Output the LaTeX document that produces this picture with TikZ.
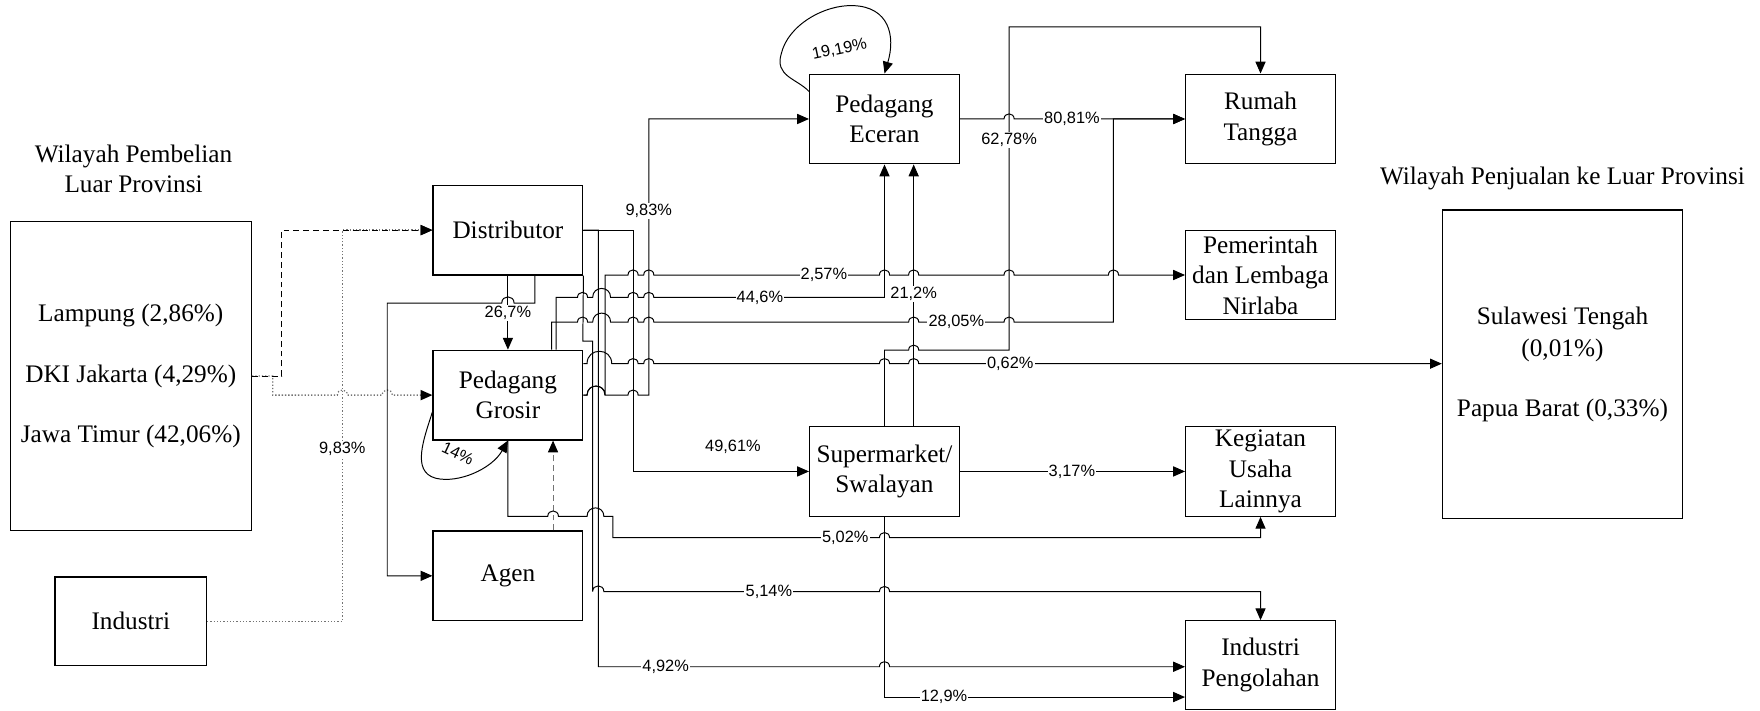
\documentclass[tikz,border=0pt]{standalone}
\usepackage{fontspec}
\setmainfont{Liberation Serif}
\setsansfont{Liberation Sans}
\usetikzlibrary{arrows.meta,positioning,calc}
\newcommand{\boxfont}{\fontsize{12.8}{15.4}\selectfont}
\newcommand{\pctfont}{\sffamily\fontsize{8.3}{10}\selectfont}
% line jump from x=#1 to x=#2 on a horizontal line at y=#3
\newcommand{\hop}[3]{-- (#1,#3) .. controls (#1,{#3-abs(#2-#1)*0.67}) and (#2,{#3-abs(#2-#1)*0.67}) .. (#2,#3)}

\begin{document}
\begin{tikzpicture}[
      % GLOBAL CFG
      x=0.02cm, y=-0.02cm,
      >={Triangle[length=2.1mm,width=1.8mm]},
      % Styles
      actor/.style={% For the trade actors
        rectangle,
        draw,
        line width=0.6pt,
        minimum width=2.67cm,
        minimum height=1.6cm,
        inner sep=0pt,
        align=center,
        font=\boxfont
      },
      region/.style={% For the outside regions
        rectangle,
        draw,
        line width=0.6pt,
        minimum width=4.3cm,
        minimum height=5.5cm
      },
      txt/.style={
        inner sep=0pt,
        align=center,
        font=\boxfont
      },
      flow/.style={% Arrows for trade flows
        ->,
        line width=0.5pt
      },
      dotflow/.style={% Arrows for the grey dotted flows
        -{Triangle[length=2.1mm,width=1.8mm,color=black]},
        line width=0.65pt,
        black!55,
        densely dotted
      },
      dashflow/.style={
        -{Triangle[length=2.1mm,width=1.8mm,color=black]},
        line width=0.5pt,
        dash pattern=on 3pt off 2pt
      },
      pct/.style={% Percent labels
        fill=white,
        inner sep=0.6pt,
        font=\pctfont
      }
      ]
      \useasboundingbox (0,0) rectangle (1568,633);

      % Outside regions
      \node [txt] (tbeli) at (119,150.5) {Wilayah Pembelian\\Luar Provinsi};
      \node [region] (beli) at (116.5,335) {};
      \node [txt] (lampung) at (116.5,281) {Lampung (2,86\%)};
      \node [txt] (dki) at (116.5,335) {DKI Jakarta (4,29\%)};
      \node [txt] (jatim) at (116.5,389) {Jawa Timur (42,06\%)};
      \node [actor, minimum width=2.7cm, minimum height=1.58cm] (industri) at (116.5,553.5) {Industri};

      \node [txt] (tjual) at (1392,159) {Wilayah Penjualan ke Luar Provinsi};
      \node [region, minimum width=4.28cm] (jual) at (1392,324.5) {};
      \node [txt] (sulteng) at (1392,284) {Sulawesi Tengah};
      \node [txt] (sulpct) at (1392,312) {(0,01\%)};
      \node [txt] (papua) at (1392,366) {Papua Barat (0,33\%)};

      % Actors
      \node [actor] (dist) at (452.5,205) {Distributor};
      \node [actor] (grosir) at (452.5,352) {Pedagang\\Grosir};
      \node [actor] (agen) at (452.5,513) {Agen};
      \node [actor] (eceran) at (788,106) {Pedagang\\Eceran};
      \node [actor] (super) at (788,420) {Supermarket/\\Swalayan};
      \node [actor] (rt) at (1123,106) {Rumah\\Tangga};
      \node [actor] (pem) at (1123,245) {Pemerintah\\dan Lembaga\\Nirlaba};
      \node [actor] (keg) at (1123,420) {Kegiatan\\Usaha\\Lainnya};
      \node [actor, minimum height=1.58cm] (ipeng) at (1123,592.5) {Industri\\Pengolahan};

      % Inflows from outside
      \draw [dotflow] (industri.east) -- (305,553.5) -- (305,205) -- (dist.west);
      \draw [dotflow] (beli.east) -- (243,335) -- (243,352) \hop{300.5}{309.5}{352} \hop{340.5}{349.5}{352} -- (grosir.west);
      \draw [dashflow] (beli.east) -- (251,335) -- (251,205) -- (dist.west);

      % Distributor
      \draw [flow] (dist.south) -- (grosir.north);
      \draw [flow] (dist.south -| 476.5,0) -- (476.5,270) \hop{458}{447}{270} -- (345,270) -- (345,513) -- (agen.west);
      \draw [flow] (dist.east) -- (564,205) -- (564,420) -- (super.west);
      \draw [flow] (dist.east) -- (533,205) -- (533,594) \hop{783.5}{792.5}{594} -- (ipeng.west |- 0,594);
      \draw [flow] (dist.south east) -- (519.25,304) -- (528,304) -- (528,527) \hop{528}{538}{527} \hop{783.5}{792.5}{527} -- (1123,527) -- (ipeng.north);

      % Pedagang Grosir
      \draw [dashflow, black!55] (agen.north -| 492.7,0) -- (grosir.south -| 492.7,0);
      \draw [flow] ($(grosir.west)+(0,15)$) .. controls (378,390) and (366,420) .. (388,426) .. controls (408,431) and (438,418) .. (grosir.south);
      \draw [flow] (grosir.south) -- (452.5,460) \hop{488}{497.5}{460} \hop{523}{538}{460} -- (546,460) -- (546,479) \hop{783.5}{792.5}{479} -- (1123,479) -- (keg.south);
      \draw [flow] (grosir.east) \hop{523}{539}{352} \hop{559.5}{568.5}{352} -- (578,352) -- (578,106) -- (eceran.west);
      \draw [flow] (grosir.east) \hop{523}{539}{352} -- (539,245) \hop{559.5}{568.5}{245} \hop{573.5}{582.5}{245} \hop{783.5}{792.5}{245} \hop{809.5}{818.5}{245} \hop{894.5}{903.5}{245} \hop{987.5}{996.5}{245} -- (pem.west);
      \draw [flow] (grosir.north -| 495.5,0) -- (495.5,265) \hop{514.5}{523.5}{265} \hop{528}{544}{265} \hop{559.5}{568.5}{265} \hop{573.5}{582.5}{265} -- (788,265) -- (eceran.south);
      \draw [flow] (grosir.north -| 491.5,0) -- (491.5,287) \hop{514.5}{523.5}{287} \hop{528}{544}{287} \hop{559.5}{568.5}{287} \hop{573.5}{582.5}{287} \hop{809.5}{818.5}{287} \hop{894.5}{903.5}{287} -- (992,287) -- (992,106) -- (rt.west);
      \draw [flow] (grosir.east |- 0,324) \hop{523}{545}{324} \hop{559.5}{568.5}{324} \hop{573.5}{582.5}{324} \hop{783.5}{792.5}{324} \hop{809.5}{818.5}{324} -- (jual.west |- 0,324);

      % Pedagang Eceran
      \draw [flow] ($(eceran.north west)+(0,16)$) .. controls (710,70) and (690,68) .. (696,48) .. controls (702,22) and (735,4) .. (760,5) .. controls (792,6) and (798,32) .. (eceran.north);
      \draw [flow] (eceran.east) \hop{894.5}{903.5}{106} -- (rt.west);

      % Supermarket
      \draw [flow] (super.north) -- (788,312) \hop{809.5}{818.5}{312} -- (899,312) -- (899,24) -- (1123,24) -- (rt.north);
      \draw [flow] (super.north -| 814,0) -- (eceran.south -| 814,0);
      \draw [flow] (super.east) -- (keg.west);
      \draw [flow] (super.south) -- (788,621) -- (ipeng.west |- 0,621);

      % Labels
      \node [pct] (l267) at (452.5,279) {26,7\%};
      \node [pct] (l983a) at (305,400) {9,83\%};
      \node [pct] (l983b) at (578,188) {9,83\%};
      \node [pct] (l4961) at (653,398) {49,61\%};
      \node [pct] (l257) at (734,245) {2,57\%};
      \node [pct] (l446) at (677,265) {44,6\%};
      \node [pct] (l212) at (814,262) {21,2\%};
      \node [pct] (l2805) at (852,287) {28,05\%};
      \node [pct] (l062) at (900,324) {0,62\%};
      \node [pct] (l6278) at (899,125) {62,78\%};
      \node [pct] (l8081) at (955,106) {80,81\%};
      \node [pct] (l317) at (955,420) {3,17\%};
      \node [pct] (l502) at (753,479) {5,02\%};
      \node [pct] (l514) at (685,527) {5,14\%};
      \node [pct] (l492) at (593,594) {4,92\%};
      \node [pct] (l129) at (841,621) {12,9\%};
      \node [pct, fill=none, rotate=12] (l1919) at (748,44) {19,19\%};
      \node [pct, fill=none, rotate=-25] (l14) at (408,404) {14\%};

    \end{tikzpicture}
\end{document}
